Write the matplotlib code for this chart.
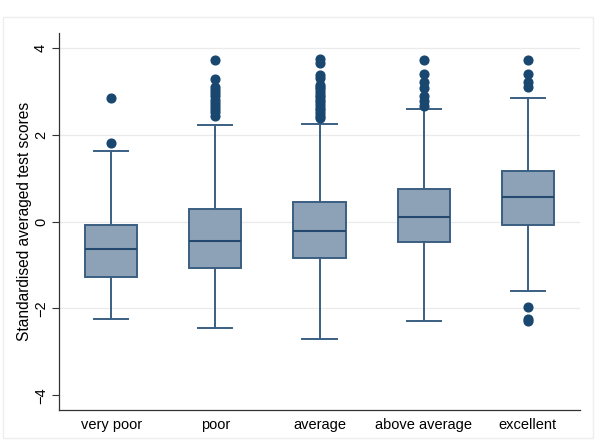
import matplotlib
matplotlib.use("Agg")
import matplotlib.pyplot as plt
from matplotlib.patches import Rectangle

categories = ["very poor", "poor", "average", "above average", "excellent"]
q1 = [-1.27, -1.06, -0.83, -0.48, -0.07]
medians = [-0.64, -0.44, -0.21, 0.11, 0.56]
q3 = [-0.09, 0.28, 0.46, 0.75, 1.16]
whisker_low = [-2.24, -2.45, -2.71, -2.29, -1.61]
whisker_high = [1.63, 2.23, 2.25, 2.58, 2.85]
outliers = [
    [1.81, 2.84],
    [2.44, 2.52, 2.60, 2.66, 2.72, 2.80, 2.88, 2.95, 3.02, 3.10, 3.29, 3.72],
    [2.38, 2.44, 2.50, 2.56, 2.62, 2.68, 2.74, 2.80, 2.86, 2.92, 2.98, 3.04, 3.10, 3.15, 3.30, 3.38, 3.64, 3.74],
    [2.66, 2.78, 2.88, 3.07, 3.21, 3.40, 3.72],
    [-2.29, -2.25, -1.96, 3.10, 3.22, 3.40, 3.72],
]
y_ticks = [-4, -2, 0, 2, 4]
y_label = "Standardised averaged test scores"

plt.rcParams['font.family'] = ['Liberation Sans', 'DejaVu Sans']

fig = plt.figure(figsize=(5.99, 4.41), dpi=100)
fig.patches.append(Rectangle((3/599, 3/441), 590/599, 421/441, transform=fig.transFigure,
                             fill=False, edgecolor='#eeeeee', linewidth=1.0))
ax = fig.add_axes([59/599, 31/441, 521/599, 377/441])

stats = []
for i, c in enumerate(categories):
    stats.append(dict(label=c, q1=q1[i], med=medians[i], q3=q3[i],
                      whislo=whisker_low[i], whishi=whisker_high[i], fliers=outliers[i]))

edge = '#3a5f82'
ax.bxp(stats, positions=range(1, 6), widths=0.5, patch_artist=True, showfliers=True,
       boxprops=dict(facecolor='#8ea2b7', edgecolor=edge, linewidth=1.4),
       medianprops=dict(color='#24496e', linewidth=1.5),
       whiskerprops=dict(color=edge, linewidth=1.4),
       capprops=dict(color=edge, linewidth=1.4),
       capwidths=0.33,
       flierprops=dict(marker='o', markerfacecolor='#1a476f', markeredgecolor='#1a476f',
                       markersize=6.3, linestyle='none'))

ax.set_xlim(0.5, 5.5)
ax.set_ylim(-4.34, 4.34)
ax.set_yticks(y_ticks)
ax.set_yticklabels([str(t).replace('-', '\u2212') for t in y_ticks], rotation=90, va='center',
                   fontsize=10.5)
ax.tick_params(axis='y', length=5, width=0.8, color='#333333', pad=3)
ax.tick_params(axis='x', length=0, labelsize=10.5, pad=6)
ax.set_xticks(range(1, 6))
ax.set_xticklabels(categories)
for t in [-2, 0, 2, 4]:
    ax.axhline(t, color='#eaeaea', linewidth=0.9, zorder=0)
ax.set_ylabel(y_label, fontsize=11.2, labelpad=1.5)
ax.spines['top'].set_visible(False)
ax.spines['right'].set_visible(False)
ax.spines['left'].set_color('#333333')
ax.spines['bottom'].set_color('#333333')
ax.spines['left'].set_linewidth(0.9)
ax.spines['bottom'].set_linewidth(0.9)

fig.savefig("out.png", dpi=100)
